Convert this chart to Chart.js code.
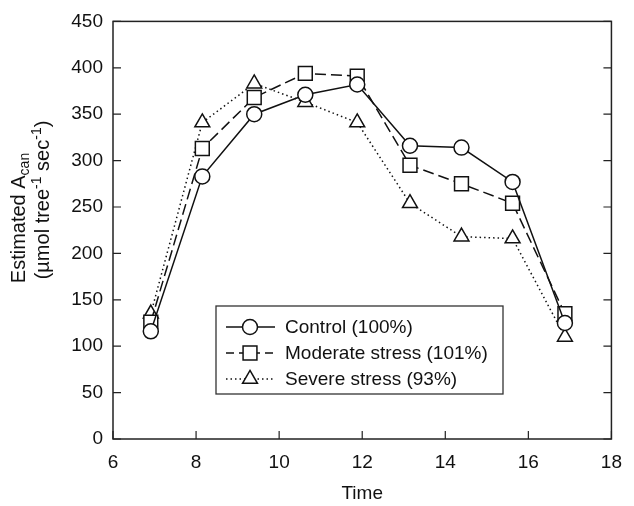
<!DOCTYPE html>
<html>
<head>
<meta charset="utf-8">
<script src="https://cdn.jsdelivr.net/npm/chart.js@4.4.0/dist/chart.umd.min.js"></script>
<style>
  html, body { margin: 0; padding: 0; background: #fff; }
  #wrap { width: 634px; height: 506px; }
</style>
</head>
<body>
<div id="wrap"><canvas id="accChart" width="634" height="506"></canvas></div>
<script>
// values
const timePoints = [6.91, 8.15, 9.40, 10.63, 11.88, 13.15, 14.39, 15.62, 16.88];
const controlValues = [116, 283, 350, 371, 382, 316, 314, 277, 125];
const moderateValues = [126, 313, 368, 394, 391, 295, 275, 254, 135];
const severeValues = [135, 341, 383, 363, 341, 254, 218, 216, 110];
const seriesLabels = ["Control (100%)", "Moderate stress (101%)", "Severe stress (93%)"];
const xTicks = [6, 8, 10, 12, 14, 16, 18];
const yTicks = [0, 50, 100, 150, 200, 250, 300, 350, 400, 450];

const FONT = "Arial, 'Liberation Sans', Helvetica, sans-serif";
const INK = "#111";

function toPoints(values) {
  return values.map((v, i) => ({ x: timePoints[i], y: v }));
}

const seriesStyles = [
  { dash: [], legendDash: [], pointStyle: "circle", radius: 7.5 },
  { dash: [11, 5], legendDash: [8, 5], pointStyle: "rect", radius: 9.8 },
  { dash: [1.5, 3], legendDash: [1.5, 3], pointStyle: "triangle", radius: 8.6 }
];

function makeDataset(label, values, style) {
  return {
    label,
    data: toPoints(values),
    borderColor: INK,
    borderWidth: 1.5,
    borderDash: style.dash,
    pointStyle: style.pointStyle,
    pointRadius: style.radius,
    pointBackgroundColor: "#fff",
    pointBorderColor: INK,
    pointBorderWidth: 1.5,
    tension: 0,
    fill: false
  };
}

// frame, inward ticks, legend box, y axis title
const decorPlugin = {
  id: "decor",
  afterDraw(chart) {
    const { ctx, chartArea: a, scales } = chart;
    ctx.save();
    ctx.strokeStyle = "#222";
    ctx.lineWidth = 1.5;
    ctx.strokeRect(a.left, a.top, a.right - a.left, a.bottom - a.top);

    ctx.lineWidth = 1.2;
    ctx.beginPath();
    xTicks.forEach(v => {
      const px = scales.x.getPixelForValue(v);
      ctx.moveTo(px, a.bottom);
      ctx.lineTo(px, a.bottom - 8);
    });
    yTicks.forEach(v => {
      const py = scales.y.getPixelForValue(v);
      ctx.moveTo(a.left, py);
      ctx.lineTo(a.left + 8, py);
      ctx.moveTo(a.right, py);
      ctx.lineTo(a.right - 8, py);
    });
    ctx.stroke();

    // legend
    const box = { x: 216, y: 306, w: 287, h: 88 };
    ctx.fillStyle = "#fff";
    ctx.fillRect(box.x, box.y, box.w, box.h);
    ctx.strokeStyle = "#333";
    ctx.lineWidth = 1.3;
    ctx.strokeRect(box.x, box.y, box.w, box.h);

    ctx.font = "19px " + FONT;
    ctx.textBaseline = "middle";
    ctx.textAlign = "left";
    seriesLabels.forEach((label, i) => {
      const y = 327 + i * 26;
      const st = seriesStyles[i];
      ctx.strokeStyle = INK;
      ctx.lineWidth = 1.5;
      ctx.setLineDash(st.legendDash);
      ctx.beginPath();
      ctx.moveTo(226, y);
      ctx.lineTo(275, y);
      ctx.stroke();
      ctx.setLineDash([]);
      ctx.fillStyle = "#fff";
      Chart.helpers.drawPoint(ctx, {
        pointStyle: st.pointStyle,
        radius: st.radius,
        borderWidth: 1.5,
        rotation: 0
      }, 250, y);
      ctx.fillStyle = INK;
      ctx.fillText(label, 285, y + 1);
    });

    // y axis title with subscript / superscripts
    ctx.rotate(-Math.PI / 2);
    const big = "20px " + FONT;
    const small = "14px " + FONT;
    function runs(parts, cx, baseY) {
      let total = 0;
      parts.forEach(p => {
        ctx.font = p.small ? small : big;
        p.w = ctx.measureText(p.t).width;
        total += p.w;
      });
      let x = cx - total / 2;
      ctx.textAlign = "left";
      ctx.textBaseline = "alphabetic";
      parts.forEach(p => {
        ctx.font = p.small ? small : big;
        ctx.fillText(p.t, x, baseY + (p.dy || 0));
        x += p.w;
      });
    }
    runs([
      { t: "Estimated A" },
      { t: "can", small: true, dy: 4 }
    ], -218, 25);
    runs([
      { t: "(\u00b5mol tree" },
      { t: "-1", small: true, dy: -8 },
      { t: " sec" },
      { t: "-1", small: true, dy: -8 },
      { t: ")" }
    ], -200, 49);
    ctx.restore();
  }
};

new Chart(document.getElementById("accChart"), {
  type: "line",
  data: {
    datasets: [
      makeDataset(seriesLabels[0], controlValues, seriesStyles[0]),
      makeDataset(seriesLabels[1], moderateValues, seriesStyles[1]),
      makeDataset(seriesLabels[2], severeValues, seriesStyles[2])
    ]
  },
  options: {
    responsive: false,
    animation: false,
    devicePixelRatio: 1,
    layout: { padding: { top: 15, right: 12, left: 0, bottom: 0 } },
    plugins: {
      legend: { display: false },
      tooltip: { enabled: false }
    },
    scales: {
      x: {
        type: "linear",
        min: 6,
        max: 18,
        afterBuildTicks: s => { s.ticks = xTicks.map(v => ({ value: v })); },
        afterFit: s => { s.height = 67; },
        grid: { display: false, drawTicks: false },
        border: { display: false },
        ticks: {
          color: INK,
          font: { family: FONT, size: 19 },
          padding: 12,
          maxRotation: 0
        },
        title: {
          display: true,
          text: "Time",
          color: INK,
          font: { family: FONT, size: 19 },
          padding: { top: 0, bottom: 1 }
        }
      },
      y: {
        min: 0,
        max: 450,
        afterBuildTicks: s => { s.ticks = yTicks.map(v => ({ value: v })); },
        afterFit: s => { s.width = 113; },
        grid: { display: false, drawTicks: false },
        border: { display: false },
        ticks: {
          color: INK,
          font: { family: FONT, size: 19 },
          padding: 10
        }
      }
    }
  },
  plugins: [decorPlugin]
});
</script>
</body>
</html>
